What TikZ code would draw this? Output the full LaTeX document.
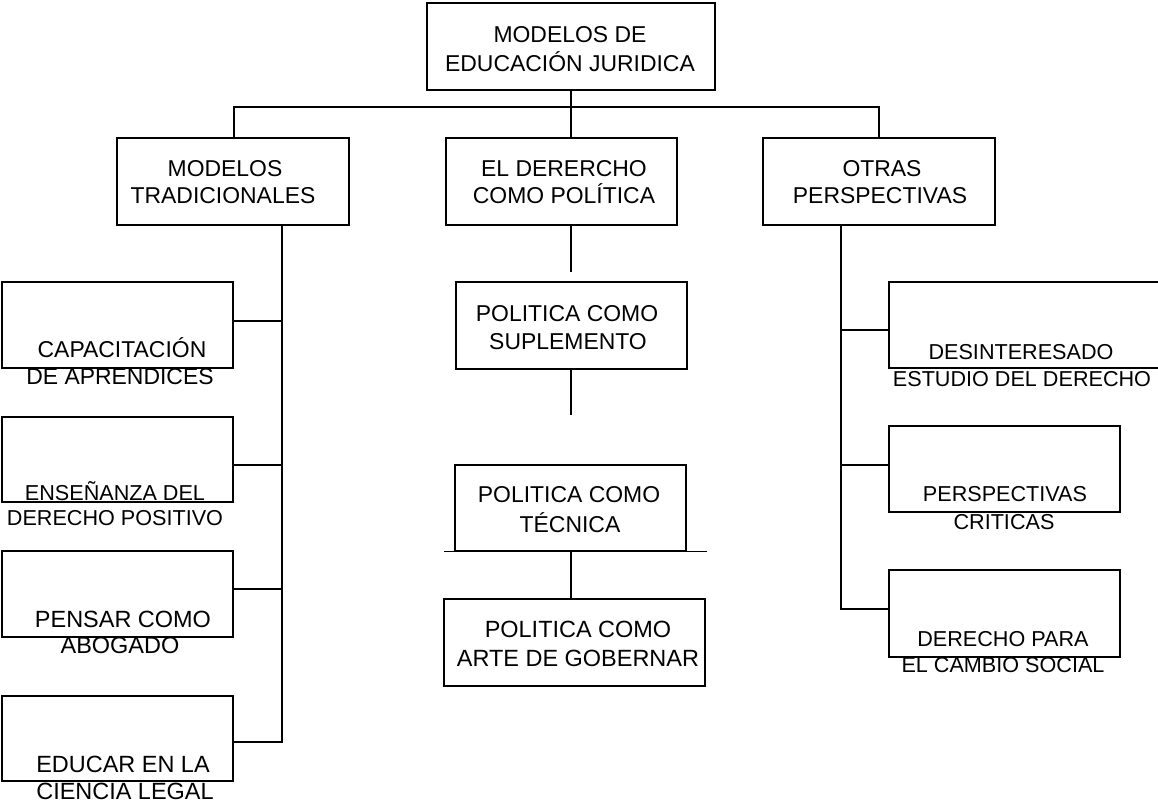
\documentclass[tikz,border=0pt]{standalone}
\usepackage{fontspec}
\setmainfont{Liberation Sans}
\usetikzlibrary{fit}
\tikzset{
  box/.style={draw=black, line width=1.1pt, rectangle, inner sep=0pt},
  lbl/.style={anchor=base, inner sep=0pt, font=\fontsize{17.2}{20}\selectfont},
  lbls/.style={lbl, font=\fontsize{16.2}{20}\selectfont},
  lblb/.style={lbl, font=\fontsize{17.6}{20}\selectfont},
  conn/.style={draw=black, line width=1.1pt},
}
\begin{document}
\begin{tikzpicture}[x=0.75pt,y=-0.75pt]
\clip (0,0) rectangle (1158,804);
\fill[white] (0,0) rectangle (1158,804);
% boxes
\node[box, fit={(427,3) (715,90)}] (T) {};
\node[box, fit={(117,138) (349,225)}] (L) {};
\node[box, fit={(446,138) (677,225)}] (M) {};
\node[box, fit={(763,138) (995,225)}] (R) {};
\node[box, fit={(2,282) (233,368)}] (L1) {};
\node[box, fit={(2,417) (233,502)}] (L2) {};
\node[box, fit={(2,551) (233,637)}] (L3) {};
\node[box, fit={(2,696) (233,781)}] (L4) {};
\node[box, fit={(456,282) (687,369)}] (M1) {};
\node[box, fit={(455,465) (686,551)}] (M2) {};
\node[box, fit={(444,599) (705,686)}] (M3) {};
\node[box, fit={(889,282) (1170,368)}] (R1) {};
\node[box, fit={(889,426) (1120,512)}] (R2) {};
\node[box, fit={(889,570) (1120,657)}] (R3) {};
% texts
\node[lbl] (T-a) at (570,42) {MODELOS DE};
\node[lbl] (T-b) at (570,71) {EDUCACIÓN JURIDICA};
\node[lbl] (L-a) at (225,176) {MODELOS};
\node[lbl] (L-b) at (223,203) {TRADICIONALES};
\node[lbl] (M-a) at (564,176) {EL DERERCHO};
\node[lbl] (M-b) at (564,203) {COMO POLÍTICA};
\node[lbl] (R-a) at (882,176) {OTRAS};
\node[lbl] (R-b) at (880,203) {PERSPECTIVAS};
\node[lbl] (L1-a) at (122,357) {CAPACITACIÓN};
\node[lbl] (L1-b) at (120,384) {DE APRENDICES};
\node[lbls] (L2-a) at (115,500) {ENSEÑANZA DEL};
\node[lbls] (L2-b) at (115,525) {DERECHO POSITIVO};
\node[lblb] (L3-a) at (123,627) {PENSAR COMO};
\node[lblb] (L3-b) at (120,653) {ABOGADO};
\node[lblb] (L4-a) at (123,772) {EDUCAR EN LA};
\node[lblb] (L4-b) at (125,799) {CIENCIA LEGAL};
\node[lbl] (M1-a) at (567,321) {POLITICA COMO};
\node[lbl] (M1-b) at (568,349) {SUPLEMENTO};
\node[lbl] (M2-a) at (569,502) {POLITICA COMO};
\node[lbl] (M2-b) at (570,532) {TÉCNICA};
\node[lblb] (M3-a) at (578,637) {POLITICA COMO};
\node[lblb] (M3-b) at (578,666) {ARTE DE GOBERNAR};
\node[lbls] (R1-a) at (1021,359) {DESINTERESADO};
\node[lbls] (R1-b) at (1022,386) {ESTUDIO DEL DERECHO};
\node[lbls] (R2-a) at (1005,501) {PERSPECTIVAS};
\node[lbls] (R2-b) at (1004,529) {CRITICAS};
\node[lbls] (R3-a) at (1003,646) {DERECHO PARA};
\node[lbls] (R3-b) at (1003,672) {EL CAMBIO SOCIAL};
% coordinates
\coordinate (bus) at (571,107);
\coordinate (ltrunk) at (282,225);
\coordinate (rtrunk) at (841,225);
\coordinate (mstem) at (571,225);
\coordinate (mend) at (571,272);
\coordinate (m1end) at (571,415);
% top connectors
\draw[conn] (T.south -| bus) -- (bus);
\draw[conn] (L.north -| 234,0) -- (234,107) -- (R.north |- bus) -- (R.north);
\draw[conn] (bus) -- (bus |- M.north);
% left
\draw[conn] ([yshift=-2.6pt]L4.east) -| (ltrunk);
\draw[conn] ([yshift=3pt]L1.east) -- ([yshift=3pt]L1.east -| ltrunk);
\draw[conn] ([yshift=-4.1pt]L2.east) -- ([yshift=-4.1pt]L2.east -| ltrunk);
\draw[conn] ([yshift=3.75pt]L3.east) -- ([yshift=3.75pt]L3.east -| ltrunk);
% right
\draw[conn] ([yshift=3.4pt]R3.west) -| (rtrunk);
\draw[conn] ([yshift=-3.75pt]R1.west) -- ([yshift=-3.75pt]R1.west -| rtrunk);
\draw[conn] ([yshift=3pt]R2.west) -- ([yshift=3pt]R2.west -| rtrunk);
% middle
\draw[conn] (mstem) -- (mend);
\draw[conn] (M1.south -| mstem) -- (m1end);
\draw[conn] ([xshift=-7.5pt]M2.south west) -- ([xshift=15pt]M2.south east);
\draw[conn] (M2.south -| mstem) -- (M3.north -| mstem);
\end{tikzpicture}
\end{document}
